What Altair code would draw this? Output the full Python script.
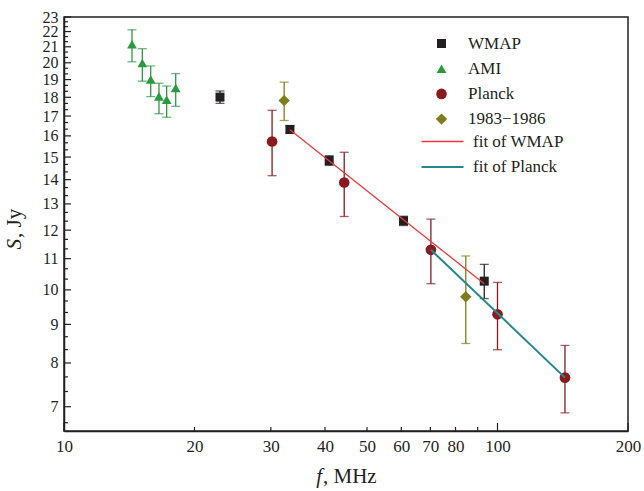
import altair as alt
import pandas as pd

# ---------------- data ----------------
series_names = ["WMAP", "AMI", "Planck", "1983\u22121986"]

wmap_f = [22.9, 33.2, 40.9, 60.7, 93.2]
wmap_S = [18.01, 16.32, 14.84, 12.35, 10.27]
wmap_lo = [17.67, 16.12, 14.62, 12.17, 9.74]
wmap_hi = [18.35, 16.50, 15.06, 12.52, 10.81]

ami_f = [14.35, 15.16, 15.85, 16.56, 17.25, 18.10]
ami_S = [21.17, 19.99, 19.01, 18.05, 17.87, 18.52]
ami_lo = [20.06, 18.91, 18.04, 17.12, 16.94, 17.51]
ami_hi = [22.12, 20.88, 19.81, 18.79, 18.63, 19.35]

planck_f = [30.2, 44.3, 70.2, 100.0, 143.1]
planck_S = [15.73, 13.88, 11.30, 9.28, 7.65]
planck_lo = [14.17, 12.51, 10.19, 8.33, 6.87]
planck_hi = [17.30, 15.22, 12.41, 10.23, 8.44]

old_f = [32.2, 84.5]
old_S = [17.82, 9.79]
old_lo = [16.77, 8.49]
old_hi = [18.85, 11.09]

fit_names = ["fit of WMAP", "fit of Planck"]
fit_wmap_f = [33.2, 93.2]
fit_wmap_S = [16.3, 10.19]
fit_planck_f = [70.2, 143.1]
fit_planck_S = [11.3, 7.65]

x_label_vals = [10, 20, 30, 40, 50, 60, 70, 80, 100, 200]
x_minor_ticks = [20, 30, 40, 50, 60, 70, 80, 90]
x_major_ticks = [10, 100, 200]
y_major_ticks = list(range(7, 24))
y_minor_ticks = [round(n + k / 3, 4) for n in range(6, 23) for k in (1, 2) if n + k / 3 > 6.5]

# ---------------- style ----------------
colors = ["#231f20", "#2a9a3f", "#8b1a1e", "#7d7d1c"]
shapes = ["square", "triangle-up", "circle", "diamond"]
sizes = [81, 130, 110, 150]
fit_colors = ["#f03a3a", "#23888d"]
fit_widths = [1.3, 2.0]
INK = "#231f20"
FONT = "Liberation Serif"
W, H = 564, 414

rows = []
for name, f, s, lo, hi in [
    (series_names[0], wmap_f, wmap_S, wmap_lo, wmap_hi),
    (series_names[1], ami_f, ami_S, ami_lo, ami_hi),
    (series_names[2], planck_f, planck_S, planck_lo, planck_hi),
    (series_names[3], old_f, old_S, old_lo, old_hi),
]:
    for a, b, c, d in zip(f, s, lo, hi):
        rows.append({"f": a, "S": b, "lo": c, "hi": d, "series": name, "grp2": name})
df = pd.DataFrame(rows)

fit_rows = []
for name, f, s in [(fit_names[0], fit_wmap_f, fit_wmap_S), (fit_names[1], fit_planck_f, fit_planck_S)]:
    for a, b in zip(f, s):
        fit_rows.append({"f": a, "S": b, "fit": name, "fitw": name})
fdf = pd.DataFrame(fit_rows)

xs = alt.Scale(type="log", domain=[10, 200], nice=False)
ys = alt.Scale(type="log", domain=[6.5, 23], nice=False)

x_axis = alt.Axis(values=x_label_vals, title=None, ticks=False, grid=False,
                  labelFont=FONT, labelFontSize=17, labelColor=INK, labelPadding=7,
                  labelOverlap=False, labelFlush=False, domainColor=INK, domainWidth=1.5)
y_axis = alt.Axis(values=y_major_ticks, title=None, ticks=False, grid=False,
                  labelFont=FONT, labelFontSize=16, labelColor=INK, labelPadding=6,
                  labelOverlap=False, labelFlush=False, domainColor=INK, domainWidth=1.5)

X = lambda fld: alt.X(fld, scale=xs, axis=x_axis)
Y = lambda fld: alt.Y(fld, scale=ys, axis=y_axis)

# inward ticks
xt_minor = alt.Chart(pd.DataFrame({"v": x_minor_ticks})).mark_rule(color=INK, strokeWidth=1.2).encode(
    x=X("v:Q"), y=alt.value(H), y2=alt.value(H - 4))
xt_major = alt.Chart(pd.DataFrame({"v": x_major_ticks})).mark_rule(color=INK, strokeWidth=1.2).encode(
    x=X("v:Q"), y=alt.value(H), y2=alt.value(H - 8))
yt_minor = alt.Chart(pd.DataFrame({"v": y_minor_ticks})).mark_rule(color=INK, strokeWidth=1.2).encode(
    y=Y("v:Q"), x=alt.value(0), x2=alt.value(4))
yt_major = alt.Chart(pd.DataFrame({"v": y_major_ticks})).mark_rule(color=INK, strokeWidth=1.2).encode(
    y=Y("v:Q"), x=alt.value(0), x2=alt.value(7))

pt_legend = alt.Legend(title=None, orient="none", legendX=369, legendY=18, symbolSize=56,
                       symbolOpacity=1, labelFont=FONT, labelFontSize=17, labelColor=INK,
                       labelOffset=18, rowPadding=7.2, padding=0, symbolStrokeWidth=0)
color_enc = alt.Color("series:N", scale=alt.Scale(domain=series_names, range=colors), legend=pt_legend)

err = alt.Chart(df).mark_rule(strokeWidth=1.3).encode(
    x=X("f:Q"), y=Y("lo:Q"), y2="hi:Q", color=color_enc)
cap_lo = alt.Chart(df).mark_tick(orient="horizontal", size=9, thickness=1.3).encode(
    x=X("f:Q"), y=Y("lo:Q"), color=color_enc)
cap_hi = alt.Chart(df).mark_tick(orient="horizontal", size=9, thickness=1.3).encode(
    x=X("f:Q"), y=Y("hi:Q"), color=color_enc)

pts = alt.Chart(df).mark_point(filled=True, opacity=1, strokeWidth=0).encode(
    x=X("f:Q"),
    y=Y("S:Q"),
    color=color_enc,
    shape=alt.Shape("series:N", scale=alt.Scale(domain=series_names, range=shapes), legend=pt_legend),
    size=alt.Size("grp2:N", scale=alt.Scale(domain=series_names, range=sizes), legend=None),
)

ln_legend = alt.Legend(title=None, orient="none", legendX=370, legendY=116, symbolType="M-3,0H3",
                       symbolSize=196, symbolStrokeWidth=1.4, labelFont=FONT, labelFontSize=17,
                       labelColor=INK, labelOffset=22, rowPadding=7.5, padding=0)
lines = alt.Chart(fdf).mark_line().encode(
    x=X("f:Q"),
    y=Y("S:Q"),
    stroke=alt.Stroke("fit:N", scale=alt.Scale(domain=fit_names, range=fit_colors), legend=ln_legend),
    strokeWidth=alt.StrokeWidth("fitw:N", scale=alt.Scale(domain=fit_names, range=fit_widths), legend=None),
)

def label(txt, x, y, align, italic=False, angle=0):
    return alt.Chart(pd.DataFrame({"t": [txt]})).mark_text(
        font=FONT, fontSize=21, color=INK, align=align, baseline="alphabetic",
        fontStyle="italic" if italic else "normal", angle=angle).encode(
        text="t:N", x=alt.value(x), y=alt.value(y))

titles = [
    label("f", 258, 466, "right", italic=True),
    label(", MHz", 259, 466, "left"),
    label("S", -43, 222, "right", italic=True, angle=270),
    label(", Jy", -43, 221, "left", angle=270),
]

chart = alt.layer(xt_minor, xt_major, yt_minor, yt_major, err, cap_lo, cap_hi, pts, lines, *titles).properties(
    width=W, height=H,
    autosize=alt.AutoSizeParams(type="none"),
    padding={"left": 64, "top": 17, "right": 16, "bottom": 60},
    background="white",
).configure_view(stroke=INK, strokeWidth=1.5)

chart.save("out.html", embed_options={"renderer": "svg", "actions": False})
